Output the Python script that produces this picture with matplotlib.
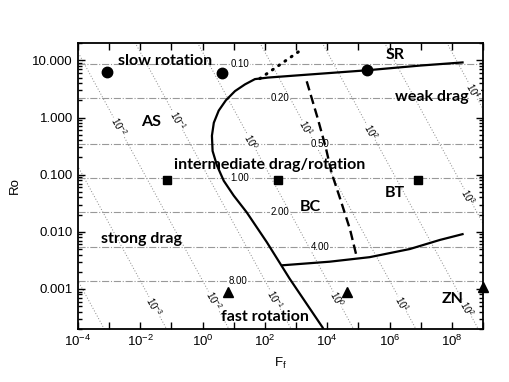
import matplotlib
matplotlib.use("Agg")
import matplotlib.pyplot as plt
import numpy as np
from matplotlib.ticker import FixedLocator, FuncFormatter, LogLocator, NullLocator

plt.rcParams["font.family"] = ["Liberation Sans", "DejaVu Sans"]
plt.rcParams["mathtext.default"] = "regular"

# ---- data ----
# main regime boundary (solid)
bound_F = [2.2e8, 9.3e6, 1.86e5, 1.32e3, 126, 48, 23, 11, 5.6, 3.3, 2.3, 2.0, 2.1, 2.9, 4.8, 10, 26, 115, 630, 7.2e3, 1.1e4]
bound_Ro = [9.2, 8.1, 6.7, 5.5, 5.0, 4.7, 3.8, 2.9, 2.0, 1.32, 0.81, 0.48, 0.26, 0.145, 0.078, 0.043, 0.022, 0.0066, 0.0015, 0.00021, 0.00012]
# dotted continuation near the corner
dot_F = [69, 1.66e3]
dot_Ro = [4.8, 16]
# dashed boundary BC / BT
dash_F = [2.2e3, 5.0e3, 9.1e3, 1.4e4, 2.6e4, 5.4e4, 8.9e4]
dash_Ro = [4.3, 0.95, 0.29, 0.105, 0.038, 0.011, 0.0036]
# lower solid boundary
low_F = [380, 1.2e4, 2.3e5, 4.5e6, 4.1e7, 2.2e8]
low_Ro = [0.0026, 0.0030, 0.0036, 0.0050, 0.0072, 0.0091]

circ_F = [8.5e-4, 4.2, 1.9e5]
circ_Ro = [6.2, 5.9, 6.7]
sq_F = [0.072, 263, 8.1e6]
sq_Ro = [0.081, 0.081, 0.081]
tri_F = [6.5, 4.3e4, 1e9]
tri_Ro = [0.0009, 0.0009, 0.0011]

# horizontal reference lines (Ro) and their labels
h_Ro = [8.75, 2.19, 0.35, 0.0875, 0.0219, 0.0055, 0.00137]
h_lab = ["0.10", "0.20", "0.50", "1.00", "2.00", "4.00", "8.00"]
h_labF = [16, 300, 5.8e3, 16, 300, 5.8e3, 14]

# diagonal lines of constant F*Ro
diag_FRo = [1.4e-7, 1.4e-5, 1.4e-3, 0.14, 14, 1.4e3, 1.4e5, 1.4e7, 1.4e9]
diag_exp = [-4, -3, -2, -1, 0, 1, 2, 3, 4]
# label positions: (exponent, Ro)
diag_lab = [(-2, 0.69), (-1, 0.89), (0, 0.38), (1, 0.65), (2, 0.56), (3, 0.041), (4, 2.9),
            (-3, 5.0e-4), (-2, 6.2e-4), (-1, 6.6e-4), (0, 6.6e-4), (1, 5.5e-4), (2, 4.5e-4)]

regions = [("slow rotation", 0.062, 9.6), ("AS", 0.023, 0.85), ("SR", 1.5e6, 12.3),
           ("weak drag", 2.3e7, 2.3), ("intermediate drag/rotation", 145, 0.15),
           ("BC", 2.8e3, 0.027), ("BT", 1.5e6, 0.047), ("strong drag", 0.011, 0.0076),
           ("fast rotation", 100, 3.2e-4), ("ZN", 1.07e8, 6.6e-4)]

fig = plt.figure(figsize=(5.09, 3.82), dpi=100)
ax = fig.add_axes([0.153, 0.139, 0.796, 0.748])
ax.set_xscale("log"); ax.set_yscale("log")
ax.set_xlim(1e-4, 1e9); ax.set_ylim(2e-4, 20)

# dotted diagonals
Fg = np.logspace(-5, 10, 50)
for c in diag_FRo:
    ax.plot(Fg, c / Fg, ls=(0, (1, 2)), color="#888888", lw=0.7, zorder=1)
ang = -np.degrees(np.arctan(57 / 31.17))
bb = dict(fc="white", ec="none", pad=0.3)
for e, ro in diag_lab:
    c = diag_FRo[diag_exp.index(e)]
    ax.text(c / ro, ro, f"$10^{{{e}}}$", rotation=ang, ha="center", va="center",
            fontsize=7, bbox=bb, zorder=2)

# dash-dot horizontals
for r, lab, fx in zip(h_Ro, h_lab, h_labF):
    ax.axhline(r, ls="-.", color="#999999", lw=0.8, zorder=1)
    ax.text(fx, r, lab, ha="center", va="center", fontsize=7, bbox=bb, zorder=2)

# boundaries
ax.plot(bound_F, bound_Ro, color="black", lw=1.6, zorder=3)
ax.plot(dot_F, dot_Ro, color="black", lw=2.2, ls=(0, (0.3, 2.2)), dash_capstyle="round", zorder=3)
ax.plot(dash_F, dash_Ro, color="black", lw=1.7, ls=(0, (4, 2)), zorder=3)
ax.plot(low_F, low_Ro, color="black", lw=1.6, zorder=3)

ax.plot(circ_F, circ_Ro, "o", color="black", ms=7.5, zorder=4, clip_on=False)
ax.plot(sq_F, sq_Ro, "s", color="black", ms=6, zorder=4, clip_on=False)
ax.plot(tri_F, tri_Ro, "^", color="black", ms=7.5, zorder=4, clip_on=False)

for t, fx, ry in regions:
    ax.text(fx, ry, t, ha="center", va="center", fontsize=11.5, fontweight="bold",
            family=["Lato", "DejaVu Sans"], zorder=5)

# axes / ticks
ax.xaxis.set_major_locator(FixedLocator([10.0 ** k for k in range(-4, 10)]))
ax.xaxis.set_major_formatter(FuncFormatter(
    lambda v, p: f"$10^{{{int(round(np.log10(v)))}}}$" if int(round(np.log10(v))) % 2 == 0 else ""))
ax.xaxis.set_minor_locator(NullLocator())
ax.yaxis.set_major_locator(FixedLocator([1e-3, 1e-2, 1e-1, 1, 10]))
ax.yaxis.set_major_formatter(FuncFormatter(lambda v, p: f"{v:.3f}"))
ax.yaxis.set_minor_locator(LogLocator(base=10, subs=np.arange(2, 10), numticks=20))
ax.tick_params(which="both", direction="in", top=True, right=True, labelsize=9.5, width=1)
ax.tick_params(which="major", length=5)
ax.tick_params(which="minor", length=3)
for s in ax.spines.values():
    s.set_linewidth(1.3)

ax.set_xlabel("F$_f$", fontsize=9.5, labelpad=5)
ax.set_ylabel("Ro", fontsize=9.5, labelpad=8)

fig.savefig("out.png", dpi=100)
